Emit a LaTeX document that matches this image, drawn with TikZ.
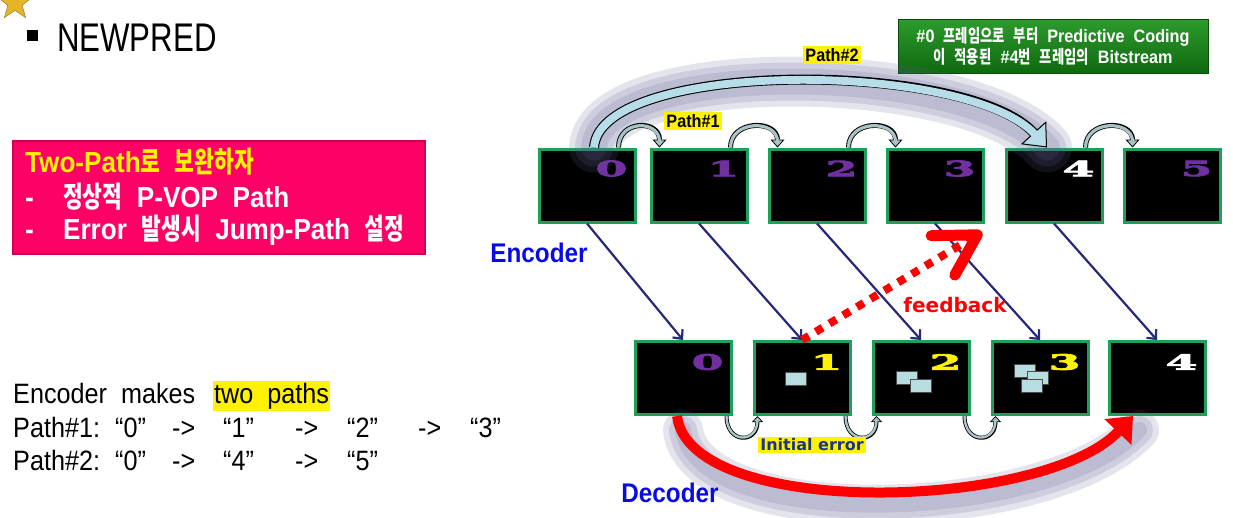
\documentclass[tikz,border=0pt]{standalone}
\usepackage{fontspec}
\usepackage{xcolor}
\usepackage{tikz}
\usetikzlibrary{arrows.meta,shapes.geometric,positioning}

\setmainfont{Liberation Sans}[FakeStretch=0.9,WordSpace=2]
\newfontfamily\kr{Noto Sans CJK KR}[FakeStretch=0.74,WordSpace=2]
\newfontfamily\titlefont{Liberation Sans}[FakeStretch=0.78]
\newfontfamily\digitfont{DejaVu Serif Bold}[FakeStretch=2.2,FakeBold=4]
\newfontfamily\tagfont{DejaVu Sans}

\definecolor{framegreen}{RGB}{30,160,90}
\definecolor{digpurple}{RGB}{112,48,160}
\definecolor{arrownavy}{RGB}{40,40,120}
\definecolor{hookfill}{RGB}{170,196,198}
\definecolor{jumpfill}{RGB}{183,222,232}
\definecolor{shadowgray}{RGB}{95,95,150}
\definecolor{labelblue}{RGB}{10,10,230}
\definecolor{errnavy}{RGB}{30,50,140}
\definecolor{hotpink}{RGB}{255,0,102}
\definecolor{errsquare}{RGB}{183,221,224}
\definecolor{gold}{RGB}{230,180,40}
\definecolor{boxgreentop}{RGB}{45,155,45}
\definecolor{boxgreenbot}{RGB}{15,105,15}

\tikzset{
    frame/.style={draw=framegreen, line width=3pt, fill=black,
        minimum width=96pt, minimum height=73pt, inner sep=0pt},
    digit/.style={font=\digitfont\fontsize{21}{21}\selectfont, inner sep=0pt},
    enc/.style={draw=arrownavy, line width=2.2pt,
        -{Straight Barb[length=7pt,width=13pt]}},
    hook/.style={draw=black, line width=5pt,
        -{Triangle[length=8pt,width=14pt,line width=0.8pt,fill=hookfill]},
        postaction={draw=hookfill, line width=3.2pt, -, shorten >=6pt}},
    hooklow/.style={draw=black, line width=4pt,
        -{Triangle[length=6pt,width=11pt,line width=0.7pt,fill=hookfill]},
        postaction={draw=hookfill, line width=2.4pt, -, shorten >=4pt}},
    bigjump/.style={draw=black, line width=10pt,
        -{Triangle[length=20pt,width=34pt,line width=1pt,fill=jumpfill]},
        postaction={draw=jumpfill, line width=7.8pt, -, shorten >=17pt}},
    redjump/.style={draw=red, line width=10pt, -{Triangle[length=22pt,width=36pt]}},
    feedback/.style={draw=red, line width=8pt, dash pattern=on 8pt off 8pt,
        -{Straight Barb[length=40pt,width=46pt,line width=11pt,round]}},
    glow/.style={draw=shadowgray, line cap=round, opacity=0.17},
    errsq/.style={fill=errsquare, draw=black!70, line width=0.6pt,
        minimum width=21pt, minimum height=13pt, inner sep=0pt},
    pathtag/.style={fill=yellow, font=\bfseries\fontsize{18}{18}\selectfont, inner sep=2pt},
    sidelabel/.style={text=labelblue, font=\bfseries\fontsize{27}{27}\selectfont, inner sep=0pt},
    pinktext/.style={anchor=west, inner sep=0pt, font=\bfseries\fontsize{29}{29}\selectfont},
    lefttext/.style={anchor=west, inner sep=0pt, text height=21pt, text depth=6pt,
        font=\fontsize{28}{28}\selectfont}
}

\begin{document}
\begin{tikzpicture}[x=1pt,y=-1pt]
    \useasboundingbox (0,0) rectangle (1233,517);

    \node[star, star points=5, star point ratio=2.4, fill=gold, draw=gold!60!black,
        minimum size=36pt, inner sep=0pt] (deco) at (15,3) {};
    \node[fill=black, minimum size=11pt, inner sep=0pt] (bullet) at (32,35) {};
    \node[anchor=west, inner sep=0pt, font=\titlefont\fontsize{40}{40}\selectfont] (title) at (57,38) {NEWPRED};

    \node[fill=hotpink, draw=hotpink!80!black, line width=1.5pt, anchor=north west,
        minimum width=412pt, minimum height=113pt, inner sep=0pt] (pinkbox) at (12,140) {};
    \node[pinktext, text=yellow] (twopath) at (25,162) {Two-Path{\kr 로} {\kr 보완하자}};
    \node[pinktext, text=white] (normal) at (25,197) {\makebox[38pt][l]{-}{\kr 정상적} P-VOP Path};
    \node[pinktext, text=white] (jump) at (25,230) {\makebox[38pt][l]{-}Error {\kr 발생시} Jump-Path {\kr 설정}};

    \node[lefttext] (makes) at (13,395.5) {Encoder makes};
    \node[lefttext, fill=yellow, inner xsep=1pt, inner ysep=1.5pt] (twopaths) at (213,395.5) {two paths};
    \node[lefttext] (path1) at (13,429.5) {\makebox[102pt][l]{Path\#1:}\makebox[57pt][l]{“0”}\makebox[51pt][l]{->}\makebox[72pt][l]{“1”}\makebox[52pt][l]{->}\makebox[71pt][l]{“2”}\makebox[52pt][l]{->}“3”};
    \node[lefttext] (path2) at (13,462.5) {\makebox[102pt][l]{Path\#2:}\makebox[57pt][l]{“0”}\makebox[51pt][l]{->}\makebox[72pt][l]{“4”}\makebox[52pt][l]{->}“5”};

    \node[draw=boxgreenbot!70!black, top color=boxgreentop, bottom color=boxgreenbot,
        minimum width=310pt, minimum height=54pt, text=white, align=center,
        font=\bfseries\fontsize{18}{21}\selectfont] (bitstream) at (1053,46)
        {\#0 {\kr 프레임으로} {\kr 부터} Predictive Coding\\{\kr 이} {\kr 적용된} \#4{\kr 번} {\kr 프레임의} Bitstream};

    \foreach \i/\x/\c in {0/587/digpurple,1/699/digpurple,2/817/digpurple,3/935/digpurple,4/1054/white,5/1172/digpurple}{
        \node[frame] (t\i) at (\x,185.5) {};
        \node[digit, text=\c] (tn\i) at ([xshift=-25pt,yshift=-21pt]t\i.north east) {\i};
    }
    \foreach \i/\x/\c in {0/683/digpurple,1/802/yellow,2/921/yellow,3/1040/yellow,4/1157/white}{
        \node[frame] (b\i) at (\x,378) {};
        \node[digit, text=\c] (bn\i) at ([xshift=-25pt,yshift=-22pt]b\i.north east) {\i};
    }

    \node[errsq, anchor=north west] (sq1) at (785,372) {};
    \node[errsq, anchor=north west] (sq2a) at (896,371) {};
    \node[errsq, anchor=north west] (sq2b) at (910,379) {};
    \node[errsq, anchor=north west] (sq3a) at (1014,364) {};
    \node[errsq, anchor=north west] (sq3b) at (1027,371) {};
    \node[errsq, anchor=north west] (sq3c) at (1021,379) {};

    \foreach \w in {50,38,26}
        \draw[glow, line width=\w pt] ([xshift=7pt]t0.north) .. controls +(6,-88) and +(-80,-88) .. ([xshift=-7pt]t4.north);
    \begin{scope}[transform canvas={shift={(6pt,-14pt)}}]
        \foreach \w in {40,28,16}
            \draw[glow, line width=\w pt] ([xshift=-6pt]b0.south) .. controls +(13,104) and +(-90,95) .. ([xshift=-24pt]b4.south);
    \end{scope}

    \draw[bigjump] ([xshift=7pt]t0.north) .. controls +(6,-88) and +(-80,-88) .. ([xshift=-7pt]t4.north);
    \foreach \i/\j in {0/1,1/2,2/3,4/5}
        \draw[hook] ([xshift=-18pt]t\i.north east) .. controls +(0,-28) and +(0,-28) .. ([xshift=10pt]t\j.north west);
    \foreach \i/\j in {0/1,1/2,2/3}
        \draw[hooklow] ([xshift=-6pt]b\i.south east) .. controls +(0,28) and +(0,28) .. ([xshift=5pt]b\j.south west);
    \draw[redjump] ([xshift=-6pt]b0.south) .. controls +(13,104) and +(-90,95) .. ([xshift=-24pt]b4.south);

    \foreach \i in {0,...,4}
        \draw[enc] (t\i.south) -- (b\i.north);

    \coordinate (fbtip) at (982,232);
    \draw[feedback] (b1.north) -- (fbtip);

    \node[pathtag] (path2tag) at (832,55) {Path\#2};
    \node[pathtag] (path1tag) at (693,121) {Path\#1};
    \node[sidelabel] (enclabel) at (539,253) {Encoder};
    \node[sidelabel] (declabel) at (670,493) {Decoder};
    \node[text=red, inner sep=0pt, font=\tagfont\bfseries\fontsize{20}{20}\selectfont] (fblabel) at (955,305) {feedback};
    \node[fill=yellow, text=errnavy, inner sep=2pt, font=\tagfont\bfseries\fontsize{16}{16}\selectfont] (initerr) at (812,445) {Initial error};
\end{tikzpicture}
\end{document}
